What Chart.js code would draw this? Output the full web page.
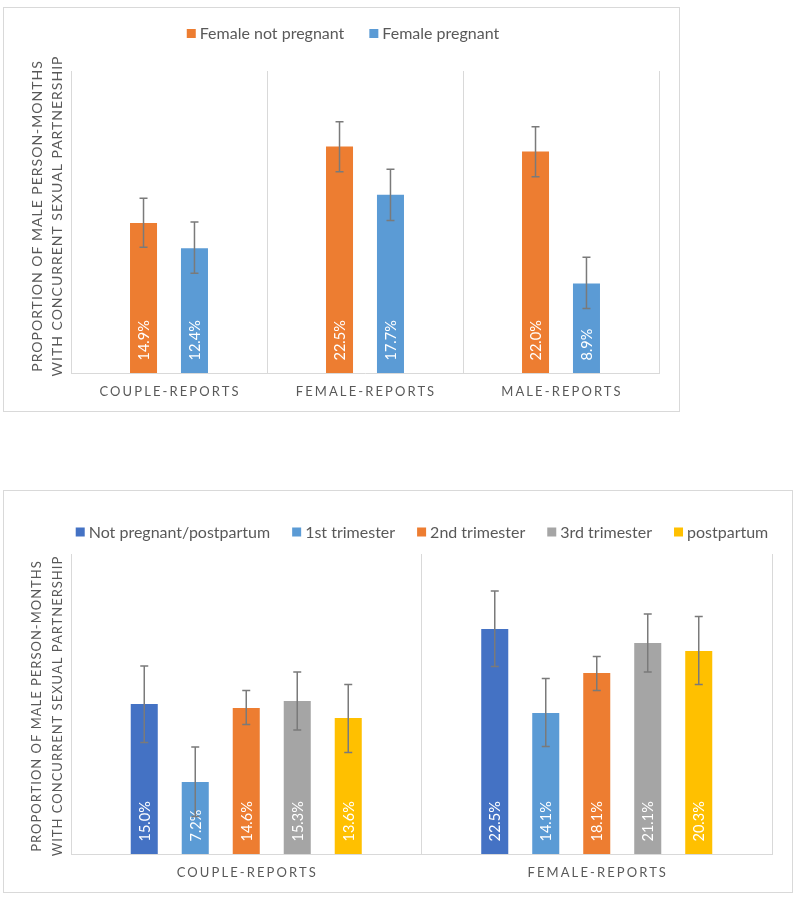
<!DOCTYPE html>
<html>
<head>
<meta charset="utf-8">
<script src="https://cdn.jsdelivr.net/npm/chart.js@4.4.1/dist/chart.umd.min.js"></script>
<style>
  body { margin: 0; background: #fff; width: 800px; height: 900px; position: relative; }
  .frame { position: absolute; border: 1px solid #d9d9d9; }
  #f1 { left: 3px; top: 7px; width: 675px; height: 403px; }
  #f2 { left: 3px; top: 490px; width: 788px; height: 401px; }
  canvas { display: block; }
</style>
</head>
<body>
<div class="frame" id="f1"><canvas id="c1" width="675" height="403"></canvas></div>
<div class="frame" id="f2"><canvas id="c2" width="788" height="401"></canvas></div>
<script>
// top chart: by pregnancy status
const topCategories = ['COUPLE-REPORTS', 'FEMALE-REPORTS', 'MALE-REPORTS'];
const notPregnant = [14.9, 22.5, 22.0];
const notPregnantLow = [12.5, 20.0, 19.5];
const notPregnantHigh = [17.35, 24.95, 24.45];
const pregnant = [12.4, 17.7, 8.9];
const pregnantLow = [9.9, 15.15, 6.4];
const pregnantHigh = [15.0, 20.25, 11.5];

// bottom chart: by trimester
const bottomCategories = ['COUPLE-REPORTS', 'FEMALE-REPORTS'];
const notPregPostpartum = [15.0, 22.5];
const notPregPostpartumLow = [11.15, 18.75];
const notPregPostpartumHigh = [18.8, 26.3];
const trimester1 = [7.2, 14.1];
const trimester1Low = [3.75, 10.75];
const trimester1High = [10.7, 17.55];
const trimester2 = [14.6, 18.1];
const trimester2Low = [12.95, 16.35];
const trimester2High = [16.35, 19.75];
const trimester3 = [15.3, 21.1];
const trimester3Low = [12.4, 18.2];
const trimester3High = [18.2, 24.0];
const postpartum = [13.6, 20.3];
const postpartumLow = [10.15, 16.95];
const postpartumHigh = [16.95, 23.75];

const yMax = 30;
const yTitle = ['PROPORTION OF MALE PERSON-MONTHS', 'WITH CONCURRENT SEXUAL PARTNERSHIP'];

const FONT = 'Lato, "Open Sans", sans-serif';
const GRAY = '#595959';

function decor(cfg) {
  return {
    id: 'decor',
    afterDatasetsDraw(chart) {
      const { ctx, scales: { y } } = chart;
      const base = y.getPixelForValue(0);
      // value labels at bar base
      chart.data.datasets.forEach((ds, i) => {
        chart.getDatasetMeta(i).data.forEach((bar, j) => {
          ctx.save();
          ctx.translate(bar.x, base - 12.5);
          ctx.rotate(-Math.PI / 2);
          ctx.font = '14.5px ' + FONT;
          ctx.fillStyle = '#fff';
          ctx.textAlign = 'left';
          ctx.textBaseline = 'middle';
          ctx.fillText(ds.data[j].toFixed(1) + '%', 0, 1);
          ctx.restore();
        });
      });
      // error bars
      ctx.save();
      ctx.strokeStyle = '#7a7a7a';
      ctx.lineWidth = 1.5;
      chart.data.datasets.forEach((ds, i) => {
        chart.getDatasetMeta(i).data.forEach((bar, j) => {
          const yt = y.getPixelForValue(ds.errHigh[j]);
          const yb = y.getPixelForValue(ds.errLow[j]);
          ctx.beginPath();
          ctx.moveTo(bar.x, yt); ctx.lineTo(bar.x, yb);
          ctx.moveTo(bar.x - 4, yt); ctx.lineTo(bar.x + 4, yt);
          ctx.moveTo(bar.x - 4, yb); ctx.lineTo(bar.x + 4, yb);
          ctx.stroke();
        });
      });
      ctx.restore();
    },
    afterDraw(chart) {
      const { ctx, chartArea, scales: { x } } = chart;
      ctx.save();
      ctx.fillStyle = GRAY;
      // category labels
      ctx.font = '13px ' + FONT;
      ctx.letterSpacing = '2.1px';
      ctx.textAlign = 'center';
      ctx.textBaseline = 'middle';
      chart.data.labels.forEach((lab, i) => {
        ctx.fillText(lab, x.getPixelForValue(i) + 1, chartArea.bottom + 18.5);
      });
      // y axis title
      ctx.font = cfg.titleSize + 'px ' + FONT;
      ctx.letterSpacing = '1px';
      const cy = (chartArea.top + chartArea.bottom) / 2 + cfg.titleShift;
      [33, 53.5].forEach((tx, k) => {
        ctx.save();
        ctx.translate(tx, cy);
        ctx.rotate(-Math.PI / 2);
        ctx.fillText(yTitle[k], 0, 0);
        ctx.restore();
      });
      // legend
      ctx.letterSpacing = '0px';
      ctx.font = '16px ' + FONT;
      ctx.textAlign = 'left';
      const items = chart.data.datasets.map(ds => ({ label: ds.label, color: ds.backgroundColor, w: 13 + ctx.measureText(ds.label).width }));
      const total = items.reduce((s, it) => s + it.w, 0) + cfg.gap * (items.length - 1);
      let lx = cfg.legendCx - total / 2;
      items.forEach(it => {
        ctx.fillStyle = it.color;
        ctx.fillRect(lx, cfg.legendCy - 4.5, 9, 9);
        ctx.fillStyle = GRAY;
        ctx.fillText(it.label, lx + 13, cfg.legendCy + 0.5);
        lx += it.w + cfg.gap;
      });
      ctx.restore();
    }
  };
}

function makeChart(id, labels, datasets, catPct, cfg) {
  return new Chart(document.getElementById(id), {
    type: 'bar',
    data: { labels, datasets },
    options: {
      responsive: false,
      animation: false,
      events: [],
      layout: { padding: { left: 67, right: 20, top: 63, bottom: 38 } },
      datasets: { bar: { categoryPercentage: catPct, barPercentage: 0.53 } },
      plugins: { legend: { display: false }, tooltip: { enabled: false } },
      scales: {
        x: {
          ticks: { display: false },
          grid: { color: '#d9d9d9', lineWidth: 1, drawTicks: false, offset: true },
          border: { color: '#d9d9d9', width: 1 },
          afterFit: s => { s.height = 0; }
        },
        y: { display: false, min: 0, max: yMax }
      }
    },
    plugins: [decor(cfg)]
  });
}

makeChart('c1', topCategories, [
  { label: 'Female not pregnant', data: notPregnant, errLow: notPregnantLow, errHigh: notPregnantHigh, backgroundColor: '#ED7D31' },
  { label: 'Female pregnant', data: pregnant, errLow: pregnantLow, errHigh: pregnantHigh, backgroundColor: '#5B9BD5' }
], 0.52, { legendCx: 339, legendCy: 25.5, gap: 25, titleShift: -6, titleSize: 14 });

makeChart('c2', bottomCategories, [
  { label: 'Not pregnant/postpartum', data: notPregPostpartum, errLow: notPregPostpartumLow, errHigh: notPregPostpartumHigh, backgroundColor: '#4472C4' },
  { label: '1st trimester', data: trimester1, errLow: trimester1Low, errHigh: trimester1High, backgroundColor: '#5B9BD5' },
  { label: '2nd trimester', data: trimester2, errLow: trimester2Low, errHigh: trimester2High, backgroundColor: '#ED7D31' },
  { label: '3rd trimester', data: trimester3, errLow: trimester3Low, errHigh: trimester3High, backgroundColor: '#A5A5A5' },
  { label: 'postpartum', data: postpartum, errLow: postpartumLow, errHigh: postpartumHigh, backgroundColor: '#FFC000' }
], 0.7275, { legendCx: 418, legendCy: 41, gap: 22, titleShift: 2, titleSize: 13 });
</script>
</body>
</html>
